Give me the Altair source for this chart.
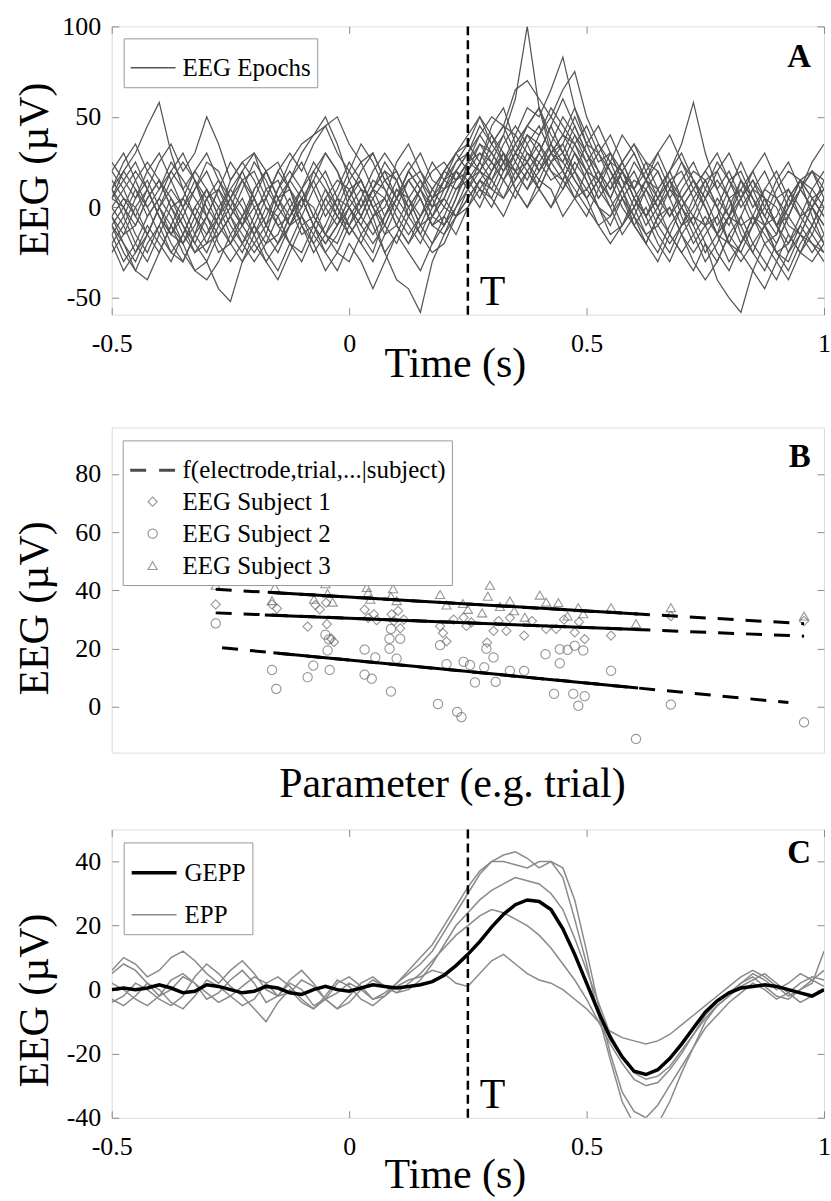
import altair as alt
import pandas as pd

FONT = "Liberation Serif"
FRAME = "#a8a8a8"
TICK = "#8c8c8c"

# ---------------- Panel A : EEG epochs ----------------
TIME = [round(-0.5 + 0.025 * i, 3) for i in range(61)]

EPOCHS = [
    [5, 15, 25, 10, -5, -15, -5, 10, 20, 5,
     -10, -20, -5, 10, 15, 0, -15, -10, 5, 15,
     10, -5, -15, -5, 10, 5, -10, -5, 10, 15,
     20, 30, 25, 40, 60, 100, 55, 30, 40, 35,
     20, 5, 15, 25, 10, -5, 5, 15, 0, -10,
     5, 15, 5, -10, -5, 10, 5, -10, -15, 0, 10],
    [-10, -20, -30, -15, 0, 10, 0, -15, -25, -10,
     5, 15, 5, -10, -20, -5, 10, 20, 10, -5,
     -10, 0, 15, 10, -5, -15, -5, 5, 15, 25,
     30, 20, 35, 45, 40, 55, 50, 65, 83, 55,
     35, 30, 20, 5, 15, 10, -5, -15, 0, 10,
     0, -15, -20, -5, 10, 5, -10, -20, -10, 5, -5],
    [10, 20, 30, 45, 58, 30, 10, 20, 30, 15,
     0, -10, 5, 20, 25, 10, 0, 15, 30, 20,
     5, -5, 10, 20, 15, 0, 10, 20, 25, 15,
     25, 40, 50, 45, 30, 45, 55, 40, 30, 45,
     30, 15, 25, 20, 5, 15, 25, 10, 0, 10,
     20, 10, -5, 5, 15, 0, -10, 5, 15, 10, 0],
    [0, -10, -25, -15, 0, -10, -25, -35, -30, -45,
     -52, -30, -20, -30, -40, -25, -10, -20, -35, -25,
     -10, -20, -30, -15, 0, -10, -20, -5, 5, -5,
     5, 15, 10, 25, 20, 10, 25, 35, 20, 10,
     0, -10, -5, 5, -10, -20, -5, 0, -15, -25,
     -15, -5, -20, -30, -20, -10, -25, -30, -15, -20, -30],
    [15, 5, -5, 10, 25, 35, 20, 30, 50, 35,
     15, 25, 30, 10, 0, 15, 30, 40, 45, 50,
     35, 25, 30, 15, 5, 20, 30, 15, 10, 20,
     15, 25, 40, 30, 20, 35, 45, 30, 40, 55,
     40, 25, 30, 15, 10, 25, 20, 5, 15, 25,
     10, 0, 15, 20, 5, -5, 10, 20, 15, 5, 10],
    [-5, 5, 0, -15, -25, -10, 5, -5, -20, -15,
     -5, 5, -10, -20, -15, 0, 10, -5, -15, -25,
     -30, -15, -5, -25, -40, -45, -58, -30, -15, -5,
     0, 10, 5, 20, 30, 25, 15, 30, 20, 5,
     10, 0, -15, -10, 5, -5, -20, -30, -15, -5,
     -10, -25, -35, -20, -5, -15, -25, -20, -5, 0, -10],
    [20, 30, 15, 0, 10, 25, 15, 5, -5, 10,
     25, 15, 0, 5, 20, 10, -10, -5, 10, 0,
     -15, -5, 10, 20, 5, -5, 10, 25, 15, 20,
     30, 45, 35, 25, 40, 30, 20, 35, 50, 40,
     25, 35, 20, 10, 25, 15, 5, 20, 35, 58,
     30, 10, 20, 5, -10, 0, 15, 25, 10, 0, 15],
    [-10, -25, -35, -20, -10, -25, -30, -15, -5, -20,
     -30, -20, -10, -25, -35, -20, -5, -15, -25, -15,
     0, 10, 5, -10, -20, -5, 5, -10, -5, 10,
     15, 5, 20, 30, 15, 25, 35, 20, 10, 25,
     15, 0, -10, 5, -5, -20, -30, -15, -25, -35,
     -20, -40, -50, -58, -35, -20, -30, -40, -25, -15, -25],
    [5, 0, -10, 5, 15, 5, -10, -20, -5, 10,
     0, -10, 10, 20, 5, -5, 5, 15, 0, -10,
     5, 20, 30, 15, 5, 15, 5, -10, 0, 15,
     25, 30, 20, 35, 45, 35, 20, 30, 25, 15,
     5, 15, 30, 20, 5, -5, 10, 20, 5, -5,
     10, 25, 15, 0, 10, 20, 5, -5, 10, 25, 35],
    [-20, -10, 5, 15, 0, -15, -20, -5, 10, 0,
     -15, -25, -10, 5, 20, 30, 20, 35, 45, 30,
     20, 35, 25, 10, 0, 15, 20, 5, 10, 25,
     35, 50, 40, 25, 35, 45, 55, 35, 25, 40,
     30, 15, 5, 20, 10, -5, 5, 15, -5, -20,
     -10, 5, -5, -20, -10, 5, -10, -25, -15, 0, -10],
    [0, 10, 20, 10, -5, -15, 0, 15, 5, -10,
     -20, -10, 0, -15, -25, -10, 5, -10, -25, -35,
     -20, -30, -45, -30, -15, -25, -35, -20, -5, -15,
     0, 15, 25, 15, 5, 20, 30, 20, 15, 30,
     20, 5, 15, 0, -10, 0, -15, -25, -10, -5,
     -20, -30, -15, -5, -20, -30, -40, -25, -10, -20, -25],
    [10, -5, -20, -30, -15, 0, -10, -25, -15, 0,
     10, 0, -15, -5, 10, 20, 10, -5, -15, -5,
     10, 15, 0, -15, -10, 5, 15, 5, -10, 0,
     10, 20, 15, 30, 20, 10, 20, 30, 35, 20,
     10, 20, 5, -10, 0, 15, 10, -5, 5, 15,
     0, -15, -5, 10, 20, 5, -10, 0, 15, 5, -5],
    [-15, -30, -20, -5, 5, -5, -20, -10, 5, 15,
     5, -10, -20, -10, 10, 25, 35, 40, 50, 35,
     15, 0, 10, 25, 15, -5, -15, 0, 15, 10,
     20, 35, 30, 20, 30, 40, 30, 45, 60, 45,
     30, 20, 10, 25, 35, 20, 5, -5, 10, 20,
     15, 0, -10, 5, 15, 5, -10, -5, 10, 20, 15],
    [-5, -20, -35, -40, -25, -10, -20, -35, -40, -30,
     -15, -5, -15, -30, -20, -5, 5, -10, -20, -10,
     0, -10, -20, -10, 5, 15, 5, -10, -15, 0,
     15, 20, 10, 5, 15, 30, 25, 15, 20, 35,
     25, 10, 0, 10, -5, -15, -10, 0, -15, -30,
     -40, -30, -15, -25, -35, -45, -30, -15, -25, -30, -20],
    [25, 15, 5, 20, 30, 15, 0, 10, 25, 20,
     5, -5, 10, 20, 5, -10, -5, 10, 20, 5,
     -10, -20, -5, 5, -10, -20, -10, 5, 20, 30,
     40, 50, 35, 45, 65, 70, 60, 50, 65, 75,
     50, 35, 25, 40, 30, 15, 30, 40, 25, 10,
     20, 30, 15, 5, 20, 30, 15, 0, 10, 20, 5],
    [-25, -15, 0, 10, -5, -20, -30, -15, 5, 10,
     -5, -20, -30, -20, -5, 5, -10, -25, -15, 0,
     15, 25, 10, -5, 5, 20, 10, -5, 5, 20,
     10, 0, 15, 25, 10, 0, 15, 10, -5, 5,
     20, 15, 5, 20, 30, 15, 0, 10, 25, 15,
     0, -15, -5, 15, 5, -10, -20, -5, 10, 0, -15],
    [10, 25, 35, 20, 10, 20, 30, 15, -5, -15,
     -5, 10, 25, 15, 0, -10, 0, 20, 30, 20,
     0, -10, 5, 15, 20, 5, -10, -20, -10, 5,
     25, 20, 30, 40, 25, 15, 30, 45, 30, 20,
     35, 45, 30, 15, 0, 10, 20, 5, -10, 0,
     15, 20, 5, -15, -25, -10, 5, 10, -5, -15, 0],
    [-5, -15, -10, 5, 15, 0, -15, -25, -20, -5,
     15, 25, 15, 0, -10, -20, -30, -15, 0, 10,
     25, 15, 0, 5, 25, 35, 20, 10, 20, 30,
     20, 10, 20, 30, 10, 0, 10, 25, 15, 5,
     -5, 10, 25, 10, -10, -20, -5, 10, 5, -10,
     -25, -15, 5, 10, -5, -20, -15, 5, 15, -5, -20],
    [20, 10, -5, -15, 0, 15, 25, 15, 0, -10,
     0, 15, 20, 5, -10, -5, 10, 25, 15, 0,
     -10, 5, 20, 30, 20, 5, -5, 10, 20, 15,
     25, 35, 25, 15, 25, 40, 35, 25, 35, 50,
     35, 20, 10, 20, 5, -10, 0, 15, 20, 5,
     -10, -5, 10, 25, 10, -5, -15, 0, 15, 20, 10],
    [-15, -5, 10, 0, -15, -25, -15, 0, 10, -5,
     -20, -30, -15, 0, -5, -20, -25, -10, 5, -5,
     -15, -5, 10, 5, -10, -20, -5, 10, 0, -5,
     10, 25, 15, 5, 20, 25, 10, 0, 15, 30,
     15, 0, -5, 10, 20, 5, -10, -20, -10, 5,
     15, 0, -20, -25, -10, 5, 0, -15, -25, -10, 5],
    [5, 20, 10, -5, 5, 20, 10, -5, -15, -5,
     10, 20, 5, -10, 0, 15, 5, -10, -20, -10,
     5, 15, 0, -10, 5, 20, 10, 0, 15, 30,
     35, 25, 45, 55, 35, 25, 40, 50, 40, 30,
     20, 30, 40, 25, 10, 20, 30, 15, 5, 15,
     5, -10, 0, 15, 5, -10, -5, 10, 0, -10, 5],
    [-20, -35, -25, -10, -20, -30, -15, 0, -10, -25,
     -20, -5, 5, -10, -20, -10, 5, 0, -15, -20,
     -5, 5, -10, -25, -15, 0, 10, -5, -10, 5,
     20, 10, 0, 15, 30, 20, 10, 25, 30, 15,
     5, 15, 0, -15, -5, 10, 0, -15, -25, -15,
     -5, -15, -30, -20, -5, -10, -25, -35, -20, -10, -20],
    [10, 0, 15, 25, 15, 0, 5, 20, 10, -5,
     5, 20, 30, 20, 5, 15, 25, 10, -5, 5,
     20, 10, -5, 0, 15, 25, 15, 0, 5, 20,
     30, 40, 30, 20, 35, 45, 40, 55, 45, 35,
     45, 30, 15, 25, 35, 25, 10, 20, 30, 15,
     5, 20, 30, 15, 0, 10, 20, 5, -5, 10, 20],
    [-10, 0, -15, -25, -10, 5, -5, -20, -30, -15,
     -5, -15, -25, -15, 5, 10, -5, -20, -10, 5,
     0, -15, -25, -5, 10, 0, -15, -25, -20, -5,
     5, 15, 5, -5, 10, 20, 10, 0, 10, 20,
     5, -10, -20, -10, 0, -15, -25, -10, 0, -15,
     -30, -20, -5, -10, -25, -35, -20, -5, -15, -25, -15],
]

# ---------------- Panel C : GEPP / EPP ----------------
GEPP = [0, 0.5, 0, 0.5, 1.5, 0.5, -1, -0.5, 1.5, 1,
        0, -1, -0.5, 1, 0.5, -1, -1.5, 0, 1, 0,
        -0.5, 0.5, 1.5, 1, 0.5, 1, 1.5, 2.5, 4.5, 7.5,
        11, 15, 19.5, 23.5, 26.5, 28, 27.5, 25, 19, 11,
        2, -7, -15, -21, -25.5, -26.5, -25, -21.5, -17, -12,
        -7, -3.5, -1, 0.5, 1, 1.5, 1, 0, -1, -2, 0]

EPP = [
    [5, 8, 6, 2, -2, 0, 4, 2, -3, -1, 3, 6, 2, -4, -2, 2, 0, -5, -3, 2, 4, 1, -3, -1, 2, 5,
     8, 12, 18, 24, 30, 36, 40, 42, 43, 41, 38, 40, 35, 22, 8, -8, -22, -35, -42, -45,
     -42, -35, -26, -18, -10, -5, -2, 2, 5, 3, 0, 2, 5, 3, 6],
    [-3, -5, -2, 2, 0, -4, -6, -2, 3, 1, -2, -5, -3, 2, 4, 1, -3, -6, -2, 3, 1, -3, -5, -2, 2, 6,
     10, 14, 20, 26, 32, 37, 40, 40, 39, 38, 40, 40, 38, 28, 12, -5, -20, -32, -38, -40,
     -36, -30, -24, -18, -12, -8, -4, -1, 2, 0, -3, -1, 2, 4, 3],
    [2, 0, -3, -5, -2, 3, 5, 2, -1, -4, -2, 1, 4, 2, -2, -1, 3, 1, -3, -6, -4, 0, 3, 1, -1, 2,
     5, 9, 13, 17, 20, 23, 25, 24, 22, 20, 17, 13, 8, 3, -3, -10, -17, -23, -28, -30,
     -29, -25, -20, -14, -8, -4, -1, 2, 4, 1, -2, -3, 0, 3, 1],
    [6, 10, 8, 4, 6, 10, 12, 9, 5, 2, 6, 9, 5, 0, -2, 3, 6, 2, -3, -1, 2, 0, -3, -2, 1, 3,
     4, 6, 5, 2, 1, 5, 9, 11, 8, 5, 3, 2, 0, -3, -6, -10, -13, -15, -16, -17,
     -16, -14, -11, -8, -5, -2, 1, 4, 6, 4, 1, -2, 0, 2, 12],
    [-4, -2, 2, 0, -3, -5, -2, 4, 8, 5, 1, -2, -6, -10, -4, 0, -4, -6, -3, -6, -2, 2, 4, 1, -1, 0,
     3, 8, 14, 20, 24, 28, 31, 33, 35, 34, 33, 30, 25, 16, 6, -4, -14, -21, -26, -28,
     -27, -24, -19, -14, -9, -5, -2, 1, 3, 5, 2, -1, -4, -2, 0],
]

for row in EPOCHS + EPP + [GEPP]:
    assert len(row) == len(TIME), len(row)

# ---------------- Panel B : subjects ----------------
F_LABEL = "f(electrode,trial,...|subject)"
SUBJECTS = ["EEG Subject 1", "EEG Subject 2", "EEG Subject 3"]
P1 = [14.6, 22.5, 23.2, 27.5, 28.6, 29.2, 30.1, 30.2, 30.8, 31.2, 35.5, 36.0, 36.8, 37.2, 39.3,
      39.6, 40.2, 40.5, 41.0, 46.1, 46.5, 47.0, 48.0, 49.4, 49.8, 50.5, 52.7, 53.6, 54.3, 55.4,
      55.9, 57.9, 59.0, 61.0, 62.4, 63.5, 65.0, 65.6, 66.4, 70.1, 78.5, 97.2]
V1 = [35.2, 35.2, 33.8, 27.6, 35.0, 33.5, 35.8, 28.4, 23.5, 22.3, 33.4, 30.6, 31.8, 29.8, 31.8,
      29.5, 33.0, 27.0, 30.0, 27.7, 25.4, 22.5, 30.0, 30.7, 27.8, 29.0, 22.1, 26.1, 29.5, 26.1,
      30.6, 24.5, 29.5, 26.8, 26.8, 30.0, 25.6, 29.2, 23.3, 24.5, 31.2, 29.5]
P2 = [14.6, 22.5, 23.1, 27.5, 28.3, 30.6, 30.0, 30.5, 30.3, 35.5, 35.5, 36.5, 37.0, 39.2, 39.2,
      39.0, 40.5, 39.0, 40.0, 45.8, 46.1, 47.0, 49.4, 50.3, 51.0, 48.5, 49.1, 52.3, 52.6, 53.6,
      53.9, 55.9, 57.9, 60.9, 62.9, 62.9, 64.0, 65.0, 66.2, 62.1, 64.8, 66.4, 65.5, 70.1, 73.6,
      78.5, 97.2]
V2 = [28.7, 12.7, 6.2, 10.2, 14.2, 12.7, 24.8, 23.2, 19.4, 19.7, 11.1, 9.7, 17.0, 5.3, 26.8,
      23.4, 23.4, 20.0, 16.6, 1.0, 21.2, 14.7, 15.5, 14.4, 8.4, -1.7, -3.5, 13.6, 20.0, 17.0,
      8.6, 12.4, 12.4, 18.1, 15.0, 19.8, 19.6, 21.0, 19.4, 4.5, 4.5, 3.7, 0.4, 12.4, -11.0,
      0.8, -5.3]
P3 = [14.6, 22.9, 22.5, 28.4, 30.0, 30.3, 31.0, 35.8, 36.0, 36.3, 39.5, 39.2, 40.0, 46.1, 47.0,
      49.3, 50.0, 52.0, 53.1, 52.8, 54.5, 55.9, 56.5, 58.0, 60.1, 61.0, 62.7, 64.0, 65.5, 66.2,
      70.1, 73.6, 78.5, 97.2]
V3 = [41.8, 41.0, 36.5, 37.0, 42.3, 39.0, 36.0, 41.0, 39.3, 37.0, 40.6, 38.0, 36.5, 38.6, 35.0,
      35.5, 33.5, 32.3, 41.8, 38.0, 34.5, 36.4, 33.0, 30.8, 38.4, 36.0, 35.8, 31.2, 34.1, 32.0,
      34.1, 28.6, 34.1, 31.2]

# fitted lines per subject (dashed over full range, solid over the dense range)
DASH_X0 = [14.6, 15.5, 14.6]
DASH_X1 = [97.2, 95.0, 97.2]
DASH_Y0 = [32.3, 20.3, 40.4]
DASH_Y1 = [24.3, 1.5, 28.6]
SOLID_X0 = [21.5, 22.7, 21.9]
SOLID_X1 = [73.9, 73.9, 73.9]
SOLID_Y0 = [31.6, 18.6, 39.4]
SOLID_Y1 = [26.6, 6.5, 31.9]

# ---------------- data frames ----------------
rows = []
for i, ep in enumerate(EPOCHS):
    for t, v in zip(TIME, ep):
        rows.append({"t": t, "v": v, "epoch": i, "lbl": "EEG Epochs"})
dfA = pd.DataFrame(rows)

rows = []
for i, ep in enumerate(EPP):
    for t, v in zip(TIME, ep):
        rows.append({"t": t, "v": v, "id": "epp%d" % i, "kind": "EPP"})
dfEPP = pd.DataFrame(rows)
dfGEPP = pd.DataFrame({"t": TIME, "v": GEPP, "id": "gepp", "kind": "GEPP"})

rows = []
for name, ps, vs in zip(SUBJECTS, [P1, P2, P3], [V1, V2, V3]):
    for p, v in zip(ps, vs):
        rows.append({"p": p, "v": v, "subject": name})
dfB = pd.DataFrame(rows)
dfDash = pd.DataFrame({"p": DASH_X0, "p2": DASH_X1, "v": DASH_Y0, "v2": DASH_Y1, "subject": SUBJECTS})
dfSolid = pd.DataFrame({"p": SOLID_X0, "p2": SOLID_X1, "v": SOLID_Y0, "v2": SOLID_Y1, "subject": SUBJECTS})

# ---------------- layout constants ----------------
W = 714
H_A, H_B, H_C = 289, 326, 289
XV = [-0.5, 0, 0.5, 1]
YV_A = [-50, 0, 50, 100]
YV_B = [0, 20, 40, 60, 80]
YV_C = [-40, -20, 0, 20, 40]

XS = alt.Scale(domain=[-0.5, 1], nice=False, zero=False)
YS_A = alt.Scale(domain=[-59.3, 100], nice=False, zero=False)
YS_B = alt.Scale(domain=[-15.7, 96], nice=False, zero=False)
YS_C = alt.Scale(domain=[-40, 50], nice=False, zero=False)
PS_B = alt.Scale(domain=[0, 100], nice=False, zero=False)


def x_time_axis(title_y):
    return alt.Axis(values=XV, labelExpr="datum.value == 0 ? '0' : '' + datum.value",
                    title="Time (s)", titleFont=FONT, titleFontSize=42, titleFontWeight="normal",
                    titleColor="black", titleX=344, titleY=title_y, titleAlign="center",
                    titleBaseline="middle", labelFont=FONT, labelFontSize=26, labelColor="black",
                    labelPadding=16, tickSize=7, tickColor=TICK, offset=-7, domain=False,
                    grid=False, labelFlush=False, labelOverlap=False)


def y_eeg_axis(values, title_y):
    return alt.Axis(values=values, labelExpr="'' + datum.value", title="EEG (µV)",
                    titleFont=FONT, titleFontSize=42, titleFontWeight="normal", titleColor="black",
                    titleAngle=270, titleX=-84, titleY=title_y, titleAlign="center",
                    titleBaseline="middle", labelFont=FONT, labelFontSize=26, labelColor="black",
                    labelPadding=11, tickSize=7, tickColor=TICK, offset=-7, domain=False,
                    grid=False, labelOverlap=False, labelFlush=False)


def mirror_axis(orient, values):
    return alt.Axis(orient=orient, values=values, labels=False, title=None, tickSize=7,
                    tickColor=TICK, offset=-7, domain=False, grid=False)


def legend_box(x, y, **kw):
    return alt.Legend(title=None, orient="none", legendX=x, legendY=y, labelFont=FONT,
                      labelFontSize=25, labelColor="black", strokeColor="#999999",
                      fillColor="white", padding=6, labelOffset=6, labelLimit=600, **kw)


# ---------------- Panel A ----------------
XA = alt.X("t:Q", scale=XS, axis=x_time_axis(56))
YA = alt.Y("v:Q", scale=YS_A, axis=y_eeg_axis(YV_A, 143))

linesA = alt.Chart(dfA).mark_line(strokeWidth=1.25, clip=True).encode(
    x=XA, y=YA, detail="epoch:N",
    color=alt.Color("lbl:N", scale=alt.Scale(domain=["EEG Epochs"], range=["#555555"]),
                    legend=legend_box(12, 12, symbolType="stroke", symbolSize=2025,
                                      symbolStrokeWidth=1.5)))
ruleA = alt.Chart(pd.DataFrame({"t": [0.25]})).mark_rule(
    color="black", strokeWidth=2.5, strokeDash=[9, 5]).encode(x=XA)
textA_T = alt.Chart(pd.DataFrame({"t": [0.302], "v": [-46.7], "s": ["T"]})).mark_text(
    font=FONT, fontSize=42, color="black").encode(x=XA, y=YA, text="s:N")
textA_L = alt.Chart(pd.DataFrame({"t": [0.9475], "v": [83], "s": ["A"]})).mark_text(
    font=FONT, fontSize=33, fontWeight="bold", color="black").encode(x=XA, y=YA, text="s:N")
mirrorA = alt.Chart(pd.DataFrame({"t": [0.0], "v": [0.0]})).mark_point(opacity=0).encode(
    x=alt.X("t:Q", scale=XS, axis=mirror_axis("top", XV)),
    y=alt.Y("v:Q", scale=YS_A, axis=mirror_axis("right", YV_A)))

panelA = alt.layer(alt.layer(linesA, ruleA, textA_T, textA_L), mirrorA).resolve_axis(
    x="independent", y="independent").properties(width=W, height=H_A)

# ---------------- Panel B ----------------
XB = alt.X("p:Q", scale=PS_B, axis=alt.Axis(
    title="Parameter (e.g. trial)", titleFont=FONT, titleFontSize=42, titleFontWeight="normal",
    titleColor="black", titleX=341, titleY=31, titleAlign="center", titleBaseline="middle",
    labels=False, ticks=False, domain=False, grid=False))
YB = alt.Y("v:Q", scale=YS_B, axis=y_eeg_axis(YV_B, 181))

LEG_B_DOMAIN = [F_LABEL] + SUBJECTS
legB = legend_box(11, 13, rowPadding=6, symbolFillColor="transparent")

pointsB = alt.Chart(dfB).mark_point(filled=False).encode(
    x=XB, y=YB,
    shape=alt.Shape("subject:N", scale=alt.Scale(
        domain=LEG_B_DOMAIN, range=["stroke", "diamond", "circle", "triangle-up"]), legend=legB),
    color=alt.Color("subject:N", scale=alt.Scale(
        domain=LEG_B_DOMAIN, range=["black", "#6a6a6a", "#6a6a6a", "#6a6a6a"]), legend=legB),
    size=alt.Size("subject:N", scale=alt.Scale(
        type="ordinal", domain=LEG_B_DOMAIN, range=[2025, 85, 85, 85]), legend=legB),
    strokeWidth=alt.StrokeWidth("subject:N", scale=alt.Scale(
        type="ordinal", domain=LEG_B_DOMAIN, range=[3, 1.1, 1.1, 1.1]), legend=legB),
    strokeDash=alt.StrokeDash("subject:N", scale=alt.Scale(
        domain=LEG_B_DOMAIN, range=[[16, 13], [1, 0], [1, 0], [1, 0]]), legend=legB))
dashB = alt.Chart(dfDash).mark_rule(color="black", strokeWidth=3, strokeDash=[16, 12]).encode(
    x=XB, x2="p2:Q", y=YB, y2="v2:Q")
solidB = alt.Chart(dfSolid).mark_rule(color="black", strokeWidth=3).encode(
    x=XB, x2="p2:Q", y=YB, y2="v2:Q")
textB = alt.Chart(pd.DataFrame({"p": [96.6], "v": [86], "s": ["B"]})).mark_text(
    font=FONT, fontSize=33, fontWeight="bold", color="black").encode(x=XB, y=YB, text="s:N")
mirrorB = alt.Chart(pd.DataFrame({"p": [0.0], "v": [0.0]})).mark_point(opacity=0).encode(
    x=XB, y=alt.Y("v:Q", scale=YS_B, axis=mirror_axis("right", YV_B)))

panelB = alt.layer(alt.layer(pointsB, dashB, solidB, textB), mirrorB).resolve_axis(
    y="independent").properties(width=W, height=H_B)

# ---------------- Panel C ----------------
XC = alt.X("t:Q", scale=XS, axis=x_time_axis(64))
YC = alt.Y("v:Q", scale=YS_C, axis=y_eeg_axis(YV_C, 171))
legC = legend_box(12, 13, symbolType="stroke", symbolSize=2025, rowPadding=5)
colC = alt.Color("kind:N", scale=alt.Scale(domain=["GEPP", "EPP"], range=["black", "#8a8a8a"]),
                 legend=legC)
swC = alt.StrokeWidth("kind:N", scale=alt.Scale(type="ordinal", domain=["GEPP", "EPP"],
                                                range=[3.5, 1.5]), legend=legC)
eppC = alt.Chart(dfEPP).mark_line(clip=True).encode(
    x=XC, y=YC, detail="id:N", color=colC, strokeWidth=swC)
geppC = alt.Chart(dfGEPP).mark_line(clip=True).encode(
    x=XC, y=YC, detail="id:N", color=colC, strokeWidth=swC)
ruleC = alt.Chart(pd.DataFrame({"t": [0.25]})).mark_rule(
    color="black", strokeWidth=2.5, strokeDash=[9, 5]).encode(x=XC)
textC_T = alt.Chart(pd.DataFrame({"t": [0.302], "v": [-33], "s": ["T"]})).mark_text(
    font=FONT, fontSize=42, color="black").encode(x=XC, y=YC, text="s:N")
textC_L = alt.Chart(pd.DataFrame({"t": [0.9475], "v": [42.5], "s": ["C"]})).mark_text(
    font=FONT, fontSize=33, fontWeight="bold", color="black").encode(x=XC, y=YC, text="s:N")
mirrorC = alt.Chart(pd.DataFrame({"t": [0.0], "v": [0.0]})).mark_point(opacity=0).encode(
    x=alt.X("t:Q", scale=XS, axis=mirror_axis("top", XV)),
    y=alt.Y("v:Q", scale=YS_C, axis=mirror_axis("right", YV_C)))

panelC = alt.layer(alt.layer(eppC, geppC, ruleC, textC_T, textC_L), mirrorC).resolve_axis(
    x="independent", y="independent").properties(width=W, height=H_C)


def spacer(h):
    return alt.Chart(pd.DataFrame({"z": [0]})).mark_point(opacity=0).encode(
        x=alt.X("z:Q", axis=None), y=alt.Y("z:Q", axis=None)).properties(
        width=W, height=h, view=alt.ViewBackground(stroke="transparent"))


chart = alt.vconcat(panelA, spacer(113), panelB, spacer(77), panelC, spacing=0,
                    bounds="flush").resolve_scale(
    color="independent", shape="independent", size="independent",
    strokeWidth="independent", strokeDash="independent").configure_view(
    stroke=FRAME, strokeWidth=1.5).configure(
    padding={"left": 13, "top": 11, "right": 0, "bottom": 0}, background="white")

chart.save("out.html", embed_options={"renderer": "svg", "actions": False})
